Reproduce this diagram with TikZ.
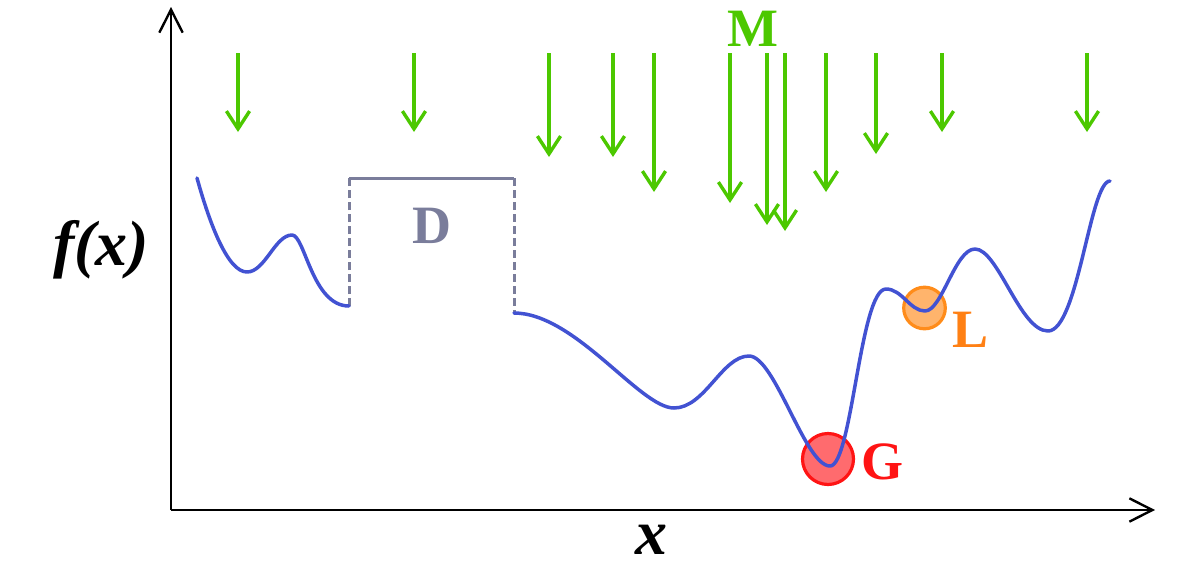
\documentclass[tikz,border=0pt]{standalone}
\usepackage{fontspec}
\setmainfont{Liberation Serif}
\usetikzlibrary{arrows.meta}
\definecolor{mgreen}{RGB}{76,200,0}
\definecolor{dgray}{RGB}{122,125,155}
\definecolor{cblue}{RGB}{66,82,210}
\definecolor{gred}{RGB}{255,20,20}
\definecolor{gfill}{RGB}{255,107,110}
\definecolor{lorange}{RGB}{255,140,26}
\definecolor{lfill}{RGB}{255,180,108}
\definecolor{ltext}{RGB}{255,128,20}
\begin{document}
\begin{tikzpicture}[x=0.5pt,y=-0.5pt,
  axisline/.style={draw=black, line width=1.2pt, -{Straight Barb[length=11.5pt,width=11.7pt]}},
  marrow/.style={draw=mgreen, line width=1.7pt, -{Straight Barb[length=8.9pt,width=11.6pt]}},
  fcurve/.style={draw=cblue, line width=1.75pt, line cap=round, line join=round},
  dbox/.style={draw=dgray, line width=1.5pt},
  dboxdash/.style={draw=dgray, line width=1.5pt, dash pattern=on 4pt off 2pt},
  lbl/.style={font=\fontsize{27}{30}\selectfont\bfseries, inner sep=0pt, anchor=base},
  ball/.style={circle, line width=1.6pt, inner sep=0pt}
]
\useasboundingbox (0,0) rectangle (1200,563);

% axes
\coordinate (O) at (171,510);
\coordinate (Ytip) at (171,7);
\coordinate (Xtip) at (1155,510);
\draw[axisline] (O) -- (Ytip);
\draw[axisline] (O) -- (Xtip);

% axis labels
\node[font=\fontsize{32}{34}\selectfont\bfseries\itshape, inner sep=0pt, anchor=base] (fx) at (101,265) {f(x)};
\node[font=\fontsize{32}{34}\selectfont\bfseries\itshape, inner sep=0pt, anchor=base] (xl) at (651,554) {x};

% D box
\coordinate (D1) at (349,306);
\coordinate (D2) at (349,178);
\coordinate (D3) at (514,178);
\coordinate (D4) at (514,313);
\draw[dboxdash] (D1) -- (D2);
\draw[dbox] (D2) -- (D3);
\draw[dboxdash] (D3) -- (D4);
\node[lbl, text=dgray] (Dl) at (432,243) {D};

% balls
\node[ball, draw=gred, fill=gfill, minimum size=25.5pt] (gball) at (828,459) {};
\node[ball, draw=lorange, fill=lfill, minimum size=20.8pt] (lball) at (924.5,308) {};
\node[lbl, text=gred] (Gl) at (882,479) {G};
\node[lbl, text=ltext] (Ll) at (970,347) {L};

% curve
\draw[fcurve] (197,178) .. controls (210,225) and (228,272) .. (247,272)
  .. controls (265,272) and (275,235) .. (292,235)
  .. controls (305,235) and (312,306) .. (349,306);
\draw[fcurve] (514,313) .. controls (575,313) and (640,408) .. (674,408)
  .. controls (705,408) and (722,356) .. (749,356)
  .. controls (775,356) and (805,466) .. (830,466)
  .. controls (852,466) and (860,289) .. (886,289)
  .. controls (902,289) and (910,311) .. (925,311)
  .. controls (942,311) and (955,249) .. (975,249)
  .. controls (998,249) and (1020,331) .. (1048,331)
  .. controls (1078,331) and (1090,181) .. (1110,181);

% M arrows
\node[lbl, text=mgreen] (Ml) at (753,46) {M};
\foreach \ax/\ay [count=\i] in {238/132,414/132,549/157,613/157,654/192,730/203,767/225,785/231,826/192,876/154,942/132,1087/132}{
  \coordinate (mt\i) at (\ax,53);
  \coordinate (mb\i) at (\ax,\ay);
  \draw[marrow] (mt\i) -- (mb\i);
}
\end{tikzpicture}
\end{document}
